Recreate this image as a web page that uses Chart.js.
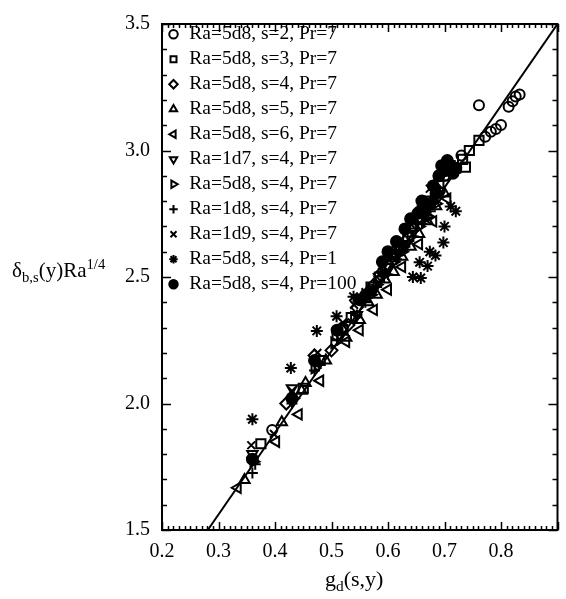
<!DOCTYPE html>
<html>
<head>
<meta charset="utf-8">
<script src="https://cdn.jsdelivr.net/npm/chart.js@4"></script>
<style>
  body { margin: 0; background: #fff; }
  #wrap { position: relative; width: 566px; height: 599px; }
  .title { position: absolute; font-family: "Liberation Serif", "Times New Roman", serif; color: #000; white-space: nowrap; }
  .title sub, .title sup { font-size: 70%; }
  #ytitle { left: 12px; top: 256px; font-size: 21px; }
  #xtitle { left: 325px; top: 566px; font-size: 22px; }
</style>
</head>
<body>
<div id="wrap">
  <canvas id="chart" width="566" height="599"></canvas>
  <div id="ytitle" class="title">&delta;<sub>b,s</sub>(y)Ra<sup>1/4</sup></div>
  <div id="xtitle" class="title">g<sub>d</sub>(s,y)</div>
</div>
<script>
// values
const labels = [
  "Ra=5d8, s=2, Pr=7",
  "Ra=5d8, s=3, Pr=7",
  "Ra=5d8, s=4, Pr=7",
  "Ra=5d8, s=5, Pr=7",
  "Ra=5d8, s=6, Pr=7",
  "Ra=1d7, s=4, Pr=7",
  "Ra=5d8, s=4, Pr=7",
  "Ra=1d8, s=4, Pr=7",
  "Ra=1d9, s=4, Pr=7",
  "Ra=5d8, s=4, Pr=1",
  "Ra=5d8, s=4, Pr=100",
];

const xS2 = [0.395, 0.52, 0.57, 0.62, 0.66, 0.70, 0.73, 0.772, 0.782, 0.791, 0.800, 0.761, 0.8135, 0.8205, 0.826, 0.833];
const yS2 = [1.895, 2.30, 2.45, 2.62, 2.76, 2.90, 2.98, 3.054, 3.074, 3.085, 3.101, 3.179, 3.173, 3.195, 3.213, 3.221];

const xS3 = [0.375, 0.45, 0.48, 0.51, 0.52, 0.535, 0.56, 0.57, 0.585, 0.61, 0.62, 0.635, 0.645, 0.66, 0.675, 0.69, 0.70, 0.71, 0.72, 0.732, 0.737, 0.744, 0.761];
const yS3 = [1.841, 2.06, 2.17, 2.27, 2.29, 2.34, 2.42, 2.46, 2.50, 2.58, 2.62, 2.66, 2.70, 2.76, 2.80, 2.87, 2.90, 2.94, 2.93, 2.965, 2.934, 3.00, 3.04];

const xS4 = [0.42, 0.47, 0.50, 0.53, 0.545, 0.565, 0.575, 0.59, 0.605, 0.615, 0.63, 0.645, 0.66, 0.675, 0.69];
const yS4 = [2.00, 2.19, 2.21, 2.31, 2.38, 2.44, 2.47, 2.52, 2.589, 2.61, 2.64, 2.69, 2.73, 2.79, 2.84];

const xS5 = [0.346, 0.412, 0.447, 0.454, 0.49, 0.526, 0.55, 0.565, 0.58, 0.595, 0.61, 0.625, 0.64, 0.655, 0.67, 0.685, 0.70];
const yS5 = [1.698, 1.926, 2.05, 2.081, 2.17, 2.26, 2.33, 2.40, 2.43, 2.49, 2.52, 2.58, 2.62, 2.67, 2.72, 2.78, 2.83];

const xS6 = [0.334, 0.402, 0.442, 0.48, 0.526, 0.55, 0.575, 0.60, 0.625, 0.655, 0.68, 0.705];
const yS6 = [1.667, 1.849, 1.957, 2.09, 2.244, 2.29, 2.37, 2.45, 2.54, 2.63, 2.72, 2.81];

const xRa1d7 = [0.36, 0.43, 0.475, 0.515, 0.545, 0.575, 0.585, 0.60, 0.615, 0.63, 0.645, 0.665, 0.69];
const yRa1d7 = [1.80, 2.06, 2.15, 2.27, 2.35, 2.45, 2.49, 2.54, 2.58, 2.62, 2.68, 2.74, 2.82];

const xRa5d8 = [0.362, 0.432, 0.47, 0.505, 0.54, 0.57, 0.58, 0.595, 0.61, 0.625, 0.64, 0.655, 0.67, 0.685];
const yRa5d8 = [1.77, 2.02, 2.14, 2.24, 2.34, 2.43, 2.47, 2.51, 2.56, 2.60, 2.66, 2.70, 2.74, 2.79];

const xRa1d8 = [0.36, 0.365, 0.43, 0.47, 0.51, 0.545, 0.56, 0.58, 0.60, 0.615, 0.63, 0.645, 0.66, 0.675];
const yRa1d8 = [1.725, 1.76, 2.00, 2.13, 2.25, 2.35, 2.40, 2.46, 2.51, 2.57, 2.62, 2.66, 2.71, 2.76];

const xRa1d9 = [0.358, 0.398, 0.43, 0.475, 0.52, 0.54, 0.56, 0.58, 0.60, 0.62, 0.64, 0.655, 0.674];
const yRa1d9 = [1.835, 1.88, 2.05, 2.20, 2.32, 2.39, 2.44, 2.50, 2.58, 2.64, 2.71, 2.76, 2.849];

const xPr1 = [0.36, 0.428, 0.474, 0.509, 0.539, 0.56, 0.59, 0.62, 0.644, 0.658, 0.656, 0.670, 0.674, 0.684, 0.698, 0.70, 0.711, 0.72];
const yPr1 = [1.938, 2.14, 2.287, 2.345, 2.422, 2.43, 2.52, 2.60, 2.50, 2.496, 2.558, 2.543, 2.60, 2.585, 2.636, 2.70, 2.779, 2.76];

const xPr100 = [0.36, 0.43, 0.47, 0.51, 0.55, 0.59, 0.60, 0.615, 0.63, 0.64, 0.653, 0.66, 0.665, 0.67, 0.68, 0.685, 0.69, 0.695, 0.70, 0.705, 0.71, 0.715, 0.72];
const yPr100 = [1.78, 2.02, 2.17, 2.29, 2.41, 2.56, 2.60, 2.64, 2.69, 2.73, 2.752, 2.80, 2.77, 2.79, 2.86, 2.83, 2.90, 2.94, 2.92, 2.96, 2.94, 2.91, 2.93];

// fitted line, end points
const xFit = [0.281, 0.9];
const yFit = [1.5, 3.5];

const xTicks = [0.2, 0.3, 0.4, 0.5, 0.6, 0.7, 0.8];
const yTicks = [1.5, 2.0, 2.5, 3.0, 3.5];

function pts(xs, ys) {
  return xs.map((x, i) => ({ x: x, y: ys[i] }));
}

const serif = "'Liberation Serif', 'Times New Roman', serif";
const none = "rgba(0,0,0,0)";

function series(label, xs, ys, style, radius, rot, fill) {
  return {
    label: label,
    data: pts(xs, ys),
    pointStyle: style,
    pointRadius: radius,
    pointRotation: rot,
    pointBorderWidth: 2,
    borderWidth: 2,
    borderColor: "#000",
    backgroundColor: fill ? "#000" : none,
    pointBackgroundColor: fill ? "#000" : none,
    pointBorderColor: "#000",
    showLine: false,
  };
}

const datasets = [
  series(labels[0], xS2, yS2, "circle", 5, 0, false),
  series(labels[1], xS3, yS3, "rect", 6.5, 0, false),
  series(labels[2], xS4, yS4, "rectRot", 6, 0, false),
  series(labels[3], xS5, yS5, "triangle", 6, 0, false),
  series(labels[4], xS6, yS6, "triangle", 6, -90, false),
  series(labels[5], xRa1d7, yRa1d7, "triangle", 6, 180, false),
  series(labels[6], xRa5d8, yRa5d8, "triangle", 6, 90, false),
  series(labels[7], xRa1d8, yRa1d8, "cross", 5.5, 0, false),
  series(labels[8], xRa1d9, yRa1d9, "crossRot", 5.5, 0, false),
  series(labels[9], xPr1, yPr1, "star", 6, 0, false),
  series(labels[10], xPr100, yPr100, "circle", 5.5, 0, true),
  {
    label: "fit",
    data: pts(xFit, yFit),
    showLine: true,
    borderColor: "#000",
    borderWidth: 2,
    pointRadius: 0,
    fill: false,
  },
];

// frame and inward ticks, placed with the scales
const frameTicks = {
  id: "frameTicks",
  afterDraw(chart) {
    const ctx = chart.ctx;
    const a = chart.chartArea;
    const xs = chart.scales.x;
    const ys = chart.scales.y;
    ctx.save();
    ctx.strokeStyle = "#000";
    ctx.lineWidth = 1.5;
    ctx.beginPath();
    for (let i = 20; i <= 90; i++) {
      const px = Math.round(xs.getPixelForValue(i / 100)) + 0.5;
      const len = i % 10 === 0 ? 8 : 4;
      ctx.moveTo(px, a.bottom);
      ctx.lineTo(px, a.bottom - len);
      ctx.moveTo(px, a.top);
      ctx.lineTo(px, a.top + len);
    }
    for (let i = 15; i <= 35; i++) {
      const py = Math.round(ys.getPixelForValue(i / 10)) + 0.5;
      const len = i % 5 === 0 ? 9 : 5;
      ctx.moveTo(a.left, py);
      ctx.lineTo(a.left + len, py);
      ctx.moveTo(a.right, py);
      ctx.lineTo(a.right - len, py);
    }
    ctx.stroke();
    ctx.lineWidth = 2;
    ctx.strokeRect(a.left, a.top, a.right - a.left, a.bottom - a.top);
    ctx.restore();
  },
};

new Chart(document.getElementById("chart"), {
  type: "scatter",
  data: { datasets: datasets },
  options: {
    responsive: false,
    animation: false,
    layout: { padding: { top: 14, right: 5, left: 0, bottom: 0 } },
    plugins: {
      tooltip: { enabled: false },
      legend: {
        position: "chartArea",
        align: "start",
        // empty title only pushes the entries down below the top frame
        title: { display: true, text: "", font: { size: 1, lineHeight: 1 }, padding: { top: 9, bottom: 9 } },
        labels: {
          usePointStyle: true,
          boxWidth: 12,
          boxHeight: 6,
          padding: 5.5,
          color: "#000",
          font: { family: serif, size: 19.5 },
          filter: (item) => item.text !== "fit",
        },
      },
    },
    scales: {
      x: {
        type: "linear",
        min: 0.2,
        max: 0.9,
        afterFit: (s) => { s.height = 69; },
        afterBuildTicks: (s) => { s.ticks = xTicks.map((v) => ({ value: v })); },
        grid: { display: false, drawTicks: false },
        border: { display: false },
        ticks: {
          padding: 10,
          color: "#000",
          font: { family: serif, size: 20 },
          callback: (v) => Number(v).toFixed(1),
        },
      },
      y: {
        type: "linear",
        min: 1.5,
        max: 3.5,
        afterFit: (s) => { s.width = 162; },
        afterBuildTicks: (s) => { s.ticks = yTicks.map((v) => ({ value: v })); },
        grid: { display: false, drawTicks: false },
        border: { display: false },
        ticks: {
          padding: 12,
          color: "#000",
          font: { family: serif, size: 20 },
          callback: (v) => Number(v).toFixed(1),
        },
      },
    },
  },
  plugins: [frameTicks],
});
</script>
</body>
</html>
